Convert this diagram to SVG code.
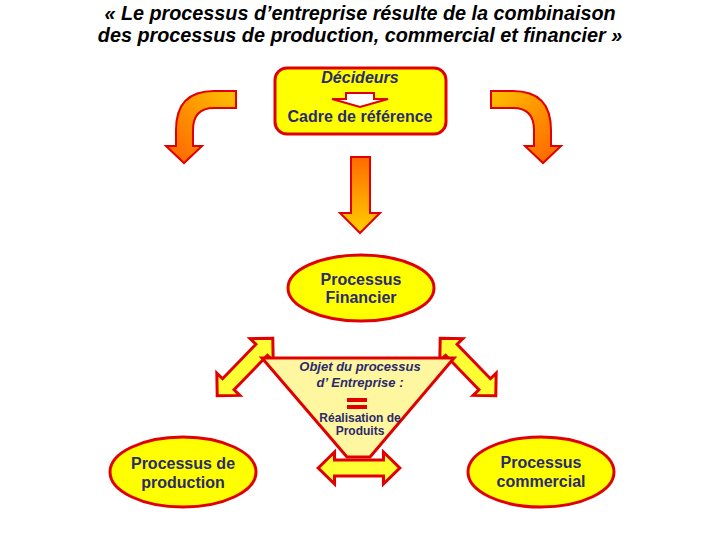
<svg xmlns="http://www.w3.org/2000/svg" width="720" height="540" viewBox="0 0 720 540">
<defs>
<linearGradient id="g" x1="0" y1="0" x2="0" y2="1"><stop offset="0" stop-color="#ff6a00"/><stop offset="1" stop-color="#ffd000"/></linearGradient>
<linearGradient id="gh" x1="1" y1="0" x2="0" y2="1"><stop offset="0" stop-color="#ffc000"/><stop offset="1" stop-color="#ff6000"/></linearGradient>
<polygon id="da" points="-40,0 -24,-16 -24,-8 24,-8 24,-16 40,0 24,16 24,8 -24,8 -24,16"/>
<path id="bent" d="M236,91 L214,91 Q176,91 176,130 L176,146 L166,146 L184,163 L202,146 L193,146 L193,130 Q193,108 214,108 L236,108 Z"/>
</defs>
<style>
.t{font-family:"Liberation Sans",Arial,sans-serif;font-weight:bold;fill:#2b2b6b;text-anchor:middle}
.n{fill:#ffff00;stroke:#e00000;stroke-width:3}
.a{stroke:#e00000;stroke-width:2}
.d{fill:#ffff33;stroke:#e00000;stroke-width:3}
</style>
<g id="title" font-family="Liberation Sans,Arial,sans-serif" font-style="italic" font-weight="bold" font-size="19.8" text-anchor="middle" fill="#000">
<text x="360" y="20">« Le processus d’entreprise résulte de la combinaison</text>
<text x="360" y="42">des processus de production, commercial et financier »</text>
</g>
<g id="connectors">
<use href="#bent" class="a" fill="url(#gh)"/>
<use href="#bent" class="a" fill="url(#gh)" transform="translate(727,0) scale(-1,1)"/>
<path class="a" fill="url(#g)" d="M351,157 L370,157 L370,213 L380,213 L360,233 L340,213 L351,213 Z"/>
<use href="#da" class="d" transform="translate(245,367) rotate(-46)"/>
<use href="#da" class="d" transform="translate(468,367) rotate(46)"/>
<use href="#da" class="d" transform="translate(359,468) scale(1.02,1)"/>
</g>
<g id="decideurs">
<rect x="275" y="68" width="171" height="66" rx="12" class="n"/>
<text class="t" x="360" y="83" font-size="16" font-style="italic">Décideurs</text>
<path d="M346,93 L374,93 L374,99 L388,99 L360,107 L332,99 L346,99 Z" fill="#fff" stroke="#e00000" stroke-width="2"/>
<text class="t" x="360" y="122" font-size="16">Cadre de référence</text>
</g>
<g id="financier">
<ellipse cx="361" cy="288" rx="73" ry="33" class="n"/>
<text class="t" x="361" y="285" font-size="16">Processus</text>
<text class="t" x="361" y="303" font-size="16">Financier</text>
</g>
<g id="objet">
<polygon points="262,358 454,358 370,457 347,457" fill="#fff6a0" stroke="#e00000" stroke-width="3"/>
<text class="t" x="360" y="371" font-size="13" font-style="italic">Objet du processus</text>
<text class="t" x="360" y="387" font-size="13" font-style="italic">d’ Entreprise :</text>
<rect x="347" y="398" width="20" height="4" fill="#e00000"/>
<rect x="347" y="405" width="20" height="4" fill="#e00000"/>
<text class="t" x="360" y="422" font-size="12">Réalisation de</text>
<text class="t" x="360" y="435" font-size="12">Produits</text>
</g>
<g id="production">
<ellipse cx="183" cy="472" rx="73" ry="35" class="n"/>
<text class="t" x="183" y="469" font-size="16">Processus de</text>
<text class="t" x="183" y="488" font-size="16">production</text>
</g>
<g id="commercial">
<ellipse cx="541" cy="472" rx="73" ry="35" class="n"/>
<text class="t" x="541" y="468" font-size="16">Processus</text>
<text class="t" x="541" y="487" font-size="16">commercial</text>
</g>
</svg>
